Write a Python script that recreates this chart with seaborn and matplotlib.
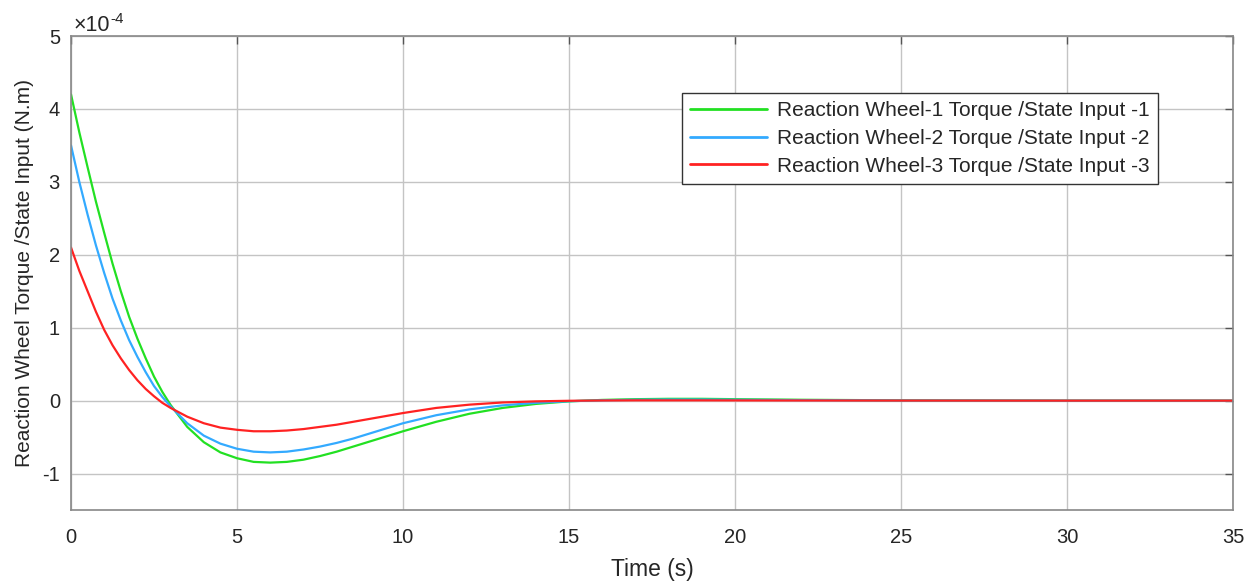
import numpy as np
import pandas as pd
import matplotlib
matplotlib.use("Agg")
import matplotlib.pyplot as plt
import seaborn as sns
from matplotlib.ticker import FuncFormatter

time_s = [0, 0.25, 0.5, 0.75, 1, 1.25, 1.5, 1.75, 2, 2.25, 2.5, 2.75, 3, 3.5, 4, 4.5,
          5, 5.5, 6, 6.5, 7, 7.5, 8, 8.5, 9, 9.5, 10, 11, 12, 13, 14, 15, 16, 17,
          18, 19, 20, 22, 25, 30, 35]
wheel1 = [4.2, 3.68, 3.2, 2.73, 2.3, 1.88, 1.5, 1.15, 0.85, 0.58, 0.33, 0.12, -0.06,
          -0.36, -0.57, -0.71, -0.79, -0.84, -0.85, -0.84, -0.81, -0.76, -0.70,
          -0.63, -0.56, -0.49, -0.42, -0.29, -0.18, -0.10, -0.045, -0.01, 0.01,
          0.02, 0.025, 0.025, 0.02, 0.012, 0.004, 0.0, 0.0]
wheel2 = [3.5, 3.0, 2.55, 2.13, 1.75, 1.4, 1.1, 0.83, 0.6, 0.39, 0.2, 0.05, -0.08,
          -0.31, -0.48, -0.59, -0.66, -0.70, -0.71, -0.70, -0.67, -0.63, -0.58,
          -0.52, -0.45, -0.38, -0.31, -0.20, -0.12, -0.065, -0.03, -0.008, 0.005,
          0.012, 0.015, 0.015, 0.012, 0.007, 0.002, 0.0, 0.0]
wheel3 = [2.1, 1.78, 1.5, 1.22, 0.97, 0.76, 0.58, 0.42, 0.28, 0.16, 0.06, -0.03, -0.10,
          -0.22, -0.31, -0.37, -0.40, -0.42, -0.42, -0.41, -0.39, -0.36, -0.33,
          -0.29, -0.25, -0.21, -0.17, -0.10, -0.055, -0.025, -0.01, -0.002, 0.002,
          0.004, 0.004, 0.004, 0.003, 0.002, 0.001, 0.0, 0.0]
labels = ["Reaction Wheel-1 Torque /State Input -1",
          "Reaction Wheel-2 Torque /State Input -2",
          "Reaction Wheel-3 Torque /State Input -3"]
colors = ["#22e022", "#33aaff", "#ff2222"]
scale = 1e-4

rows = []
for lab, vals in zip(labels, [wheel1, wheel2, wheel3]):
    for t, v in zip(time_s, vals):
        rows.append({"Time": t, "Value": v * scale, "Series": lab})
df = pd.DataFrame(rows)

sns.set_style("white")
plt.rcParams['font.family'] = ['Liberation Sans', 'DejaVu Sans']
plt.rcParams['axes.unicode_minus'] = False

fig = plt.figure(figsize=(12.46, 5.82), dpi=100)
ax = fig.add_axes([0.057, 0.1237, 0.9326, 0.8143])

sns.lineplot(data=df, x="Time", y="Value", hue="Series", palette=colors,
             hue_order=labels, linewidth=1.6, ax=ax, estimator=None, sort=False)

ax.set_xlim(0, 35)
ax.set_ylim(-1.5e-4, 5e-4)
ax.set_xticks(np.arange(0, 36, 5))
ax.set_yticks(np.arange(-1, 6, 1) * scale)
ax.yaxis.set_major_formatter(FuncFormatter(lambda v, p: "%g" % round(v / scale, 6)))

# exponent label above the axes, MATLAB style
ax.text(0.002, 1.011, "\u00d710", transform=ax.transAxes, fontsize=15.5,
        color='#262626', ha='left', va='baseline')
ax.text(0.0335, 1.028, "-4", transform=ax.transAxes, fontsize=11,
        color='#262626', ha='left', va='baseline')

ax.grid(True, color='#c4c4c4', linewidth=1.0)
ax.set_axisbelow(True)
for sp in ax.spines.values():
    sp.set_visible(True)
    sp.set_color('#888888')
    sp.set_linewidth(1.2)
ax.tick_params(direction='in', length=6, width=1.0, color='#555555',
               top=True, right=True, labelsize=14.5, labelcolor='#262626')
ax.tick_params(axis='x', pad=13)
ax.tick_params(axis='y', pad=8)

ax.set_xlabel("Time (s)", fontsize=16.5, color='#262626', labelpad=8)
ax.set_ylabel("Reaction Wheel Torque /State Input (N.m)", fontsize=15,
              color='#262626', labelpad=6)

leg = ax.legend(loc='upper right', bbox_to_anchor=(0.935, 0.88), fontsize=15,
                frameon=True, fancybox=False, framealpha=1, edgecolor='#333333',
                handlelength=3.7, borderpad=0.4, labelspacing=0.42, handletextpad=0.45,
                borderaxespad=0)
leg.get_frame().set_linewidth(1.0)
for line in leg.get_lines():
    line.set_linewidth(2.0)

fig.savefig("out.png", dpi=100)
